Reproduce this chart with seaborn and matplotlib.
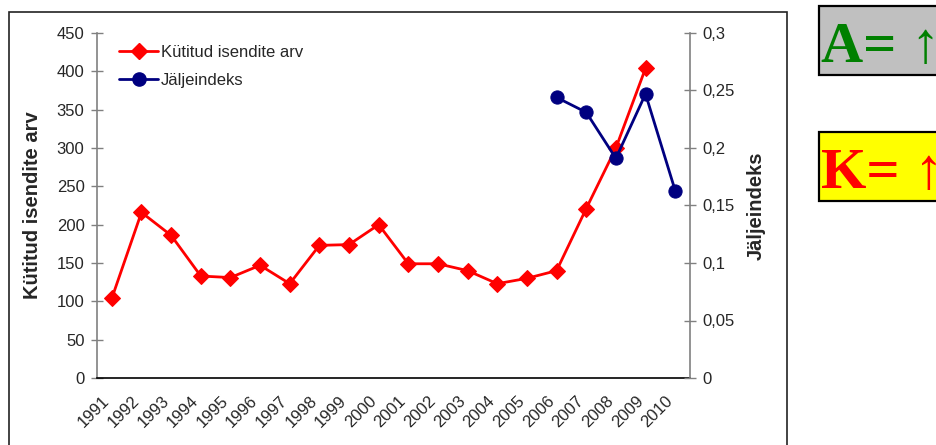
import matplotlib
matplotlib.use("Agg")
import matplotlib.pyplot as plt
import matplotlib.transforms as mtransforms
from matplotlib.patches import Rectangle
from matplotlib.lines import Line2D
import seaborn as sns
import pandas as pd
import numpy as np

# ---- data ----
years = [str(y) for y in range(1991, 2011)]
harvested = [104, 216, 186, 133, 131, 147, 123, 173, 174, 200,
             149, 149, 140, 123, 130, 140, 221, 300, 404, np.nan]
track_years = ["2006", "2007", "2008", "2009", "2010"]
track_index = [0.244, 0.231, 0.191, 0.247, 0.163]
left_ticks = list(range(0, 451, 50))
right_ticks = [0, 0.05, 0.1, 0.15, 0.2, 0.25, 0.3]
right_labels = ["0", "0,05", "0,1", "0,15", "0,2", "0,25", "0,3"]
series_names = ["Kütitud isendite arv", "Jäljeindeks"]
left_label = "Kütitud isendite arv"
right_label = "Jäljeindeks"

sns.set_style("white")
plt.rcParams["font.family"] = ["Liberation Sans", "DejaVu Sans"]

W, H = 936, 445
fig = plt.figure(figsize=(W / 100, H / 100), dpi=100)
ax = fig.add_axes([97 / W, 1 - 378 / H, (690 - 97) / W, (378 - 33) / H])
ax2 = ax.twinx()

df1 = pd.DataFrame({"pos": range(len(years)), "val": harvested}).dropna()
df2 = pd.DataFrame({"pos": [years.index(y) for y in track_years], "val": track_index})

sns.lineplot(data=df1, x="pos", y="val", ax=ax, color="#FF0000", marker="D",
             markersize=8, markeredgecolor="#FF0000", linewidth=2, legend=False)
sns.lineplot(data=df2, x="pos", y="val", ax=ax2, color="#000080", marker="o",
             markersize=9.5, markeredgecolor="#000080", linewidth=2, legend=False)

ax.set_xlim(-0.5, len(years) - 0.5)
ax.set_ylim(0, 450)
ax2.set_ylim(0, 0.3)
ax.set_yticks(left_ticks)
ax.set_yticklabels([str(v) for v in left_ticks])
ax2.set_yticks(right_ticks)
ax2.set_yticklabels(right_labels)

# x axis: labels at category centres, tick marks at boundaries
ax.set_xticks(range(len(years)))
ax.set_xticklabels(years, rotation=45, ha="right", rotation_mode="anchor")
ax.set_xticks(np.arange(-0.5, len(years), 1), minor=True)
ax.tick_params(axis="x", which="major", length=0, pad=8, labelsize=12)
ax.tick_params(axis="x", which="minor", direction="inout", length=8, width=1, color="#000000")
offset = mtransforms.ScaledTranslation(-10 / 100, -4 / 100, fig.dpi_scale_trans)
for lbl in ax.get_xticklabels():
    lbl.set_transform(lbl.get_transform() + offset)

ax.tick_params(axis="y", direction="inout", length=8, width=1, color="#808080",
               labelsize=12, left=True, pad=5)
ax2.tick_params(axis="y", direction="inout", length=8, width=1, color="#808080",
                labelsize=12, right=True, pad=5)

for a in (ax, ax2):
    a.spines["top"].set_visible(False)
    a.set_xlabel("")
ax.spines["right"].set_visible(False)
ax.spines["left"].set_color("#808080")
ax.spines["left"].set_linewidth(1.2)
ax.spines["bottom"].set_color("#000000")
ax.spines["bottom"].set_linewidth(1.2)
ax2.spines["left"].set_visible(False)
ax2.spines["bottom"].set_visible(False)
ax2.spines["right"].set_color("#808080")
ax2.spines["right"].set_linewidth(1.2)

ax.set_ylabel(left_label, fontsize=14.5, fontweight="bold")
ax.yaxis.set_label_coords(-0.093, 0.5)
ax2.set_ylabel(right_label, fontsize=14.5, fontweight="bold", rotation=90)
ax2.yaxis.set_label_coords(1.096, 0.5)

# legend
handles = [
    Line2D([], [], color="#FF0000", marker="D", markersize=8, linewidth=2),
    Line2D([], [], color="#000080", marker="o", markersize=9.5, linewidth=2),
]
ax2.legend(handles, series_names, loc="upper left", bbox_to_anchor=(0.018, 1.0),
           frameon=False, fontsize=12, handlelength=2.3, handletextpad=0.2,
           labelspacing=0.8, borderaxespad=0.3)

# outer chart border
fig.add_artist(Rectangle((9 / W, -0.05), (787 - 9) / W, 1.05 - 12 / H,
                         transform=fig.transFigure, fill=False,
                         edgecolor="#222222", linewidth=1.2))

# side boxes
fig.add_artist(Rectangle((819 / W, 1 - 75 / H), 0.2, 69 / H, transform=fig.transFigure,
                         facecolor="#C0C0C0", edgecolor="#000000", linewidth=1.6))
fig.add_artist(Rectangle((819 / W, 1 - 201 / H), 0.2, 69 / H, transform=fig.transFigure,
                         facecolor="#FFFF00", edgecolor="#000000", linewidth=1.6))
fig.text(821 / W, 1 - 62 / H, "A= \u2191", color="#008000", fontsize=42,
         fontweight="bold", family=["Liberation Serif", "DejaVu Serif"], va="baseline")
fig.text(821 / W, 1 - 188 / H, "K= \u2191", color="#FF0000", fontsize=42,
         fontweight="bold", family=["Liberation Serif", "DejaVu Serif"], va="baseline")

fig.savefig("out.png", dpi=100)
